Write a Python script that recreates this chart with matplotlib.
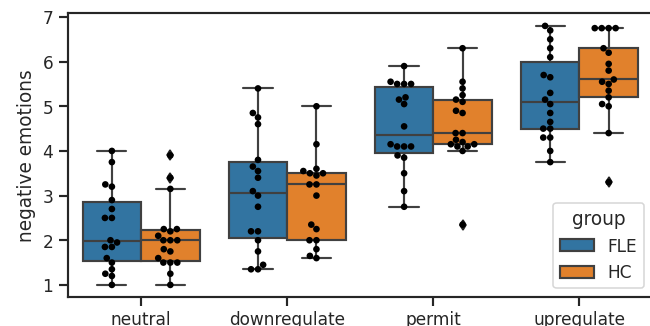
import matplotlib
matplotlib.use("Agg")
import matplotlib.pyplot as plt
import seaborn as sns
import pandas as pd

conditions = ["neutral", "downregulate", "permit", "upregulate"]
groups = ["FLE", "HC"]

fle_neutral = [4.0, 3.75, 3.25, 3.2, 2.9, 2.7, 2.5, 2.5, 2.0, 1.95,
               1.85, 1.85, 1.6, 1.5, 1.35, 1.25, 1.2, 1.0]
hc_neutral = [3.9, 3.4, 3.15, 2.25, 2.25, 2.2, 2.1, 2.0, 2.0, 2.0,
              1.8, 1.75, 1.6, 1.5, 1.5, 1.5, 1.25, 1.0]

fle_down = [5.4, 4.85, 4.75, 4.6, 3.8, 3.65, 3.55, 3.4, 3.1, 3.0,
            2.75, 2.2, 2.2, 2.0, 1.75, 1.45, 1.35, 1.35]
hc_down = [5.0, 4.15, 3.6, 3.55, 3.5, 3.5, 3.45, 3.25, 3.25, 3.0,
           2.35, 2.25, 2.0, 2.0, 1.8, 1.65, 1.6]

fle_permit = [5.9, 5.55, 5.5, 5.5, 5.5, 5.2, 5.15, 5.05, 4.55, 4.15,
              4.1, 4.1, 4.1, 3.9, 3.85, 3.5, 3.1, 2.75]
hc_permit = [6.3, 5.55, 5.4, 5.25, 5.15, 5.1, 4.9, 4.85, 4.4, 4.4,
             4.25, 4.2, 4.15, 4.15, 4.1, 4.1, 4.0, 2.35]

fle_up = [6.8, 6.7, 6.5, 6.3, 6.1, 5.7, 5.65, 5.3, 5.15, 5.05,
          4.85, 4.65, 4.5, 4.5, 4.3, 4.3, 4.0, 3.75]
hc_up = [6.75, 6.75, 6.75, 6.75, 6.3, 6.2, 5.95, 5.8, 5.6, 5.55,
         5.5, 5.35, 5.2, 5.05, 5.0, 4.4, 3.3]

scores = {
    ("neutral", "FLE"): fle_neutral, ("neutral", "HC"): hc_neutral,
    ("downregulate", "FLE"): fle_down, ("downregulate", "HC"): hc_down,
    ("permit", "FLE"): fle_permit, ("permit", "HC"): hc_permit,
    ("upregulate", "FLE"): fle_up, ("upregulate", "HC"): hc_up,
}

rows = []
for (cond, grp), vals in scores.items():
    for v in vals:
        rows.append({"condition": cond, "group": grp, "negative emotions": v})
df = pd.DataFrame(rows)

sns.set_theme(style="ticks", context="notebook", palette="tab10")

line_gray = "#404040"
dpi = 111
fig = plt.figure(figsize=(650.5 / dpi, 326.5 / dpi), dpi=dpi)
ax = fig.add_axes([68 / 650, 1 - 297 / 326, 584 / 650, 284 / 326])

sns.boxplot(data=df, x="condition", y="negative emotions", hue="group",
            order=conditions, hue_order=groups, ax=ax,
            palette=["#1f77b4", "#ff7f0e"], saturation=0.75,
            linewidth=1.4, linecolor=line_gray,
            flierprops=dict(marker="d", markersize=4.8,
                            markerfacecolor="#222222",
                            markeredgecolor="#222222"))
sns.swarmplot(data=df, x="condition", y="negative emotions", hue="group",
              order=conditions, hue_order=groups, dodge=True,
              palette=["k", "k"], size=4.3, legend=False, ax=ax)

ax.set_xlabel("")
ax.set_ylim(0.73, 7.1)
ax.set_yticks([1, 2, 3, 4, 5, 6, 7])
ax.spines["right"].set_visible(False)
for side in ("left", "bottom", "top"):
    ax.spines[side].set_linewidth(1.4)
ax.tick_params(width=1.4)
ax.tick_params(axis="x", pad=2.5)
sns.move_legend(ax, "lower right", title="group")

fig.savefig("out.png", dpi=dpi)
